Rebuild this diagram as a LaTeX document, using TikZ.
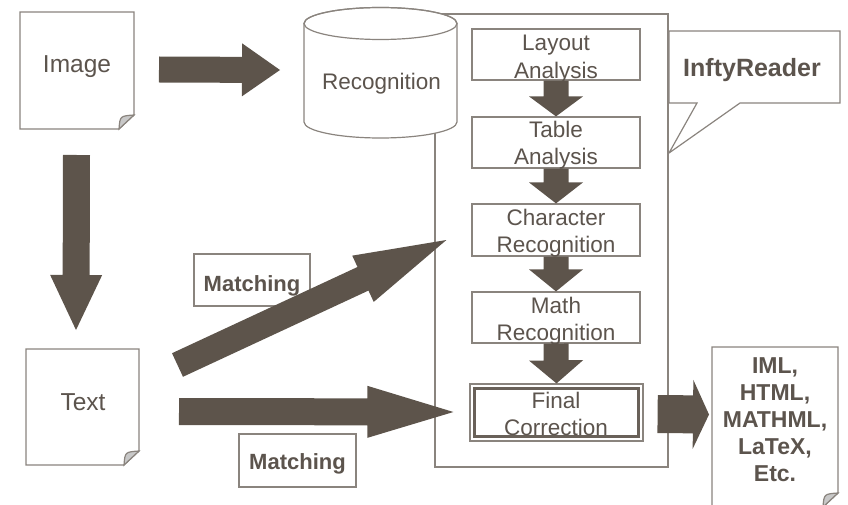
\documentclass[tikz,border=0pt]{standalone}
\usepackage{fontspec}
\setmainfont{Liberation Sans}
\usetikzlibrary{calc}
\definecolor{arrowc}{RGB}{93,84,75}
\definecolor{textc}{RGB}{92,84,77}
\definecolor{linec}{RGB}{138,132,126}
\definecolor{foldc}{RGB}{200,200,200}
\definecolor{innerc}{RGB}{105,97,89}

% #1 tail, #2 tip, #3 shaft half width, #4 head half width, #5 head length
\newcommand\blockarrow[5]{%
  \coordinate (bah) at ($(#2)!#5!(#1)$);
  \fill[arrowc] ($(#1)!#3!90:(#2)$) -- ($(bah)!#3!-90:(#1)$) -- ($(bah)!#4!-90:(#1)$)
    -- (#2) -- ($(bah)!#4!90:(#1)$) -- ($(bah)!#3!90:(#1)$) -- ($(#1)!#3!-90:(#2)$) -- cycle;}

% document shape with folded corner around an empty node
\newcommand\docshape[1]{%
  \draw[thinline, fill=white] (#1.north west) -- (#1.north east) -- ($(#1.south east)+(0,-14)$)
    -- ($(#1.south east)+(-15,0)$) -- (#1.south west) -- cycle;
  \filldraw[thinline, fill=foldc] ($(#1.south east)+(0,-14)$) .. controls ($(#1.south east)+(-14,-13)$) .. ($(#1.south east)+(-15,0)$) -- cycle;}

\begin{document}
\begin{tikzpicture}[x=1pt,y=-1pt,text=textc,
  thinline/.style={draw=linec, line width=1.2pt},
  box/.style={thinline, fill=white, inner sep=0pt},
  procbox/.style={box, minimum width=168pt, minimum height=51pt},
  shapenode/.style={inner sep=0pt, outer sep=0pt},
  boxtext/.style={align=center, anchor=base, inner sep=0pt, font=\fontsize{22.5}{27.5}\selectfont},
  bigtext/.style={anchor=base, inner sep=0pt, font=\fontsize{24.5}{29}\selectfont},
  boldtext/.style={anchor=base, inner sep=0pt, align=center, font=\bfseries\fontsize{22}{26.8}\selectfont}]
\useasboundingbox (0,0) rectangle (848,505);
\clip (0,0) rectangle (848,505);

% frame of InftyReader
\node[thinline, shapenode, minimum width=233pt, minimum height=453pt] (frame) at (551.5,240.5) {};

% Recognition cylinder
\node[shapenode, minimum width=153pt, minimum height=131pt] (cyl) at (380.5,72.5) {};
\filldraw[thinline, fill=white] (304,23.5) -- (304,122)
  arc[start angle=180, end angle=360, x radius=76.5pt, y radius=16pt] -- (457,23.5)
  arc[start angle=0, end angle=180, x radius=76.5pt, y radius=16pt] -- cycle;
\draw[thinline] (380.5,23.5) ellipse [x radius=76.5pt, y radius=16pt];
\node[boxtext] (recogtxt) at (381.5,90) {Recognition};

% callout
\node[shapenode, minimum width=171pt, minimum height=72pt] (callout) at (754.5,67) {};
\coordinate (ptr) at (669,153);
\draw[thinline, fill=white] (callout.north west) -- (callout.north east) -- (callout.south east)
  -- ($(callout.south west)+(71,0)$) -- (ptr) -- ($(callout.south west)+(28,0)$) -- (callout.south west) -- cycle;
\node[boldtext, font=\bfseries\fontsize{25}{30}\selectfont] (inftytxt) at (752,77) {InftyReader};

% process boxes (base anchor = baseline of the last line)
\node[procbox] (layout) at (556,54.5) {};
\node[boxtext] at (556,78.5) {Layout\\Analysis};
\node[procbox] (table) at (556,142.5) {};
\node[boxtext] at (556,165) {Table\\Analysis};
\node[procbox, minimum height=52pt] (charrec) at (556,230) {};
\node[boxtext] at (556,252.5) {Character\\Recognition};
\node[procbox] (mathrec) at (556,317.5) {};
\node[boxtext] at (556,340.5) {Math\\Recognition};
\node[box, minimum width=173pt, minimum height=57pt] (final) at (556.5,412.5) {};
\draw[innerc, line width=3.2pt] ($(final.north west)+(5,5)$) rectangle ($(final.south east)+(-5,-5)$);
\node[boxtext] at (556,435.5) {Final\\Correction};

\blockarrow{layout.south}{table.north}{12.5pt}{27pt}{20pt}
\blockarrow{table.south}{charrec.north}{12.5pt}{27pt}{21pt}
\blockarrow{charrec.south}{mathrec.north}{12.5pt}{27pt}{22pt}
\blockarrow{mathrec.south}{final.north}{12.5pt}{27pt}{23pt}

% documents
\node[shapenode, minimum width=114pt, minimum height=117pt] (image) at (77,70.5) {};
\docshape{image}
\node[bigtext] at (77,73) {Image};
\node[shapenode, minimum width=113pt, minimum height=116pt] (textdoc) at (82.5,407) {};
\docshape{textdoc}
\node[bigtext] at (83,410) {Text};
\node[shapenode, minimum width=126pt, minimum height=160pt] (outdoc) at (775,427) {};
\docshape{outdoc}
\node[boldtext, font=\bfseries\fontsize{23}{27}\selectfont] at (775,481) {IML,\\HTML,\\MATHML,\\LaTeX,\\Etc.};

% matching labels
\node[box, minimum width=116pt, minimum height=52pt] (match1) at (252,280) {};
\node[boldtext] at (252,291) {Matching};
\node[box, minimum width=117pt, minimum height=53pt] (match2) at (297.5,460.5) {};
\node[boldtext] at (297.5,469) {Matching};

% big arrows
\coordinate (a1s) at ($(image.east)+(25,-1)$);
\coordinate (a1e) at ($(cyl.west)+(-24,-2.5)$);
\blockarrow{a1s}{a1e}{13pt}{26.5pt}{38pt}
\coordinate (a2s) at ($(image.south)+(-0.5,26)$);
\coordinate (a2e) at ($(textdoc.north)+(-6.5,-19)$);
\blockarrow{a2s}{a2e}{13.5pt}{26pt}{55pt}
\coordinate (a3s) at ($(textdoc.east)+(38.5,-42)$);
\coordinate (a3e) at ($(charrec.west)+(-25,10)$);
\blockarrow{a3s}{a3e}{13pt}{25.5pt}{92pt}
\coordinate (a4s) at ($(textdoc.east)+(40,4.5)$);
\coordinate (a4e) at ($(final.west)+(-16,-0.5)$);
\blockarrow{a4s}{a4e}{13.5pt}{26pt}{86pt}
\coordinate (a5s) at ($(final.east)+(14,1.5)$);
\coordinate (a5e) at ($(outdoc.west)+(-3,-12.5)$);
\blockarrow{a5s}{a5e}{19pt}{34.5pt}{16pt}
\end{tikzpicture}
\end{document}
